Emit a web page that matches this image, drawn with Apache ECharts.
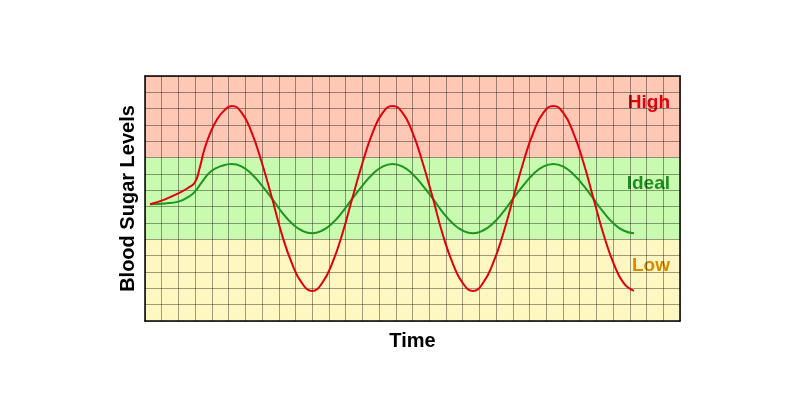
<!DOCTYPE html>
<html lang="en">
  <head>
    <meta charset="UTF-8" />
    <title>Blood Sugar Levels</title>
    <script src="https://cdn.jsdelivr.net/npm/echarts@6/dist/echarts.min.js"></script>
    <style>
      html, body { margin: 0; padding: 0; background: #fff; }
      #main { width: 800px; height: 398px; }
    </style>
  </head>
  <body>
    <div id="main"></div>
    <script>
      // grid units: 32 columns (time) x 15 rows (level)
      const xTicks = { min: 0, max: 32, step: 1 };
      const yTicks = { min: 0, max: 15, step: 1 };

      // zones: [from, to, label, fill, text colour]
      const zones = [
        [10, 15, "High", "#fec8b4", "#e2000c"],
        [5, 10, "Ideal", "#c8fbb0", "#1e8c1e"],
        [0, 5, "Low", "#fff7c1", "#d98a00"],
      ];

      // points, [time, level]
      const redCurve = [
        [0.3, 7.15], [1.2, 7.45], [1.99, 7.82], [2.59, 8.16], [2.99, 8.49],
        [3.29, 9.45], [3.55, 10.5], [3.9, 11.5], [4.29, 12.31], [4.7, 12.85], [5.19, 13.17],
        [5.79, 12.74], [6.39, 11.52], [6.98, 9.72], [7.6, 7.51], [8.18, 5.33],
        [8.78, 3.55], [9.38, 2.33], [10.0, 1.84],
        [10.6, 2.33], [11.2, 3.55], [11.8, 5.33], [12.4, 7.51], [13.02, 9.72],
        [13.61, 11.52], [14.21, 12.74], [14.81, 13.17],
        [15.41, 12.74], [16.01, 11.52], [16.6, 9.72], [17.22, 7.51], [17.8, 5.33],
        [18.4, 3.55], [19.0, 2.33], [19.62, 1.84],
        [20.22, 2.33], [20.82, 3.55], [21.42, 5.33], [22.02, 7.51], [22.63, 9.72],
        [23.22, 11.52], [23.82, 12.74], [24.42, 13.17],
        [25.02, 12.74], [25.62, 11.52], [26.22, 9.72], [26.82, 7.51], [27.42, 5.33],
        [28.02, 3.55], [28.62, 2.33], [29.25, 1.84],
      ];
      const greenCurve = [
        [0.3, 7.15], [1.2, 7.2], [1.99, 7.31], [2.6, 7.6], [2.99, 7.92],
        [3.49, 8.63], [3.99, 9.2], [4.6, 9.5], [5.19, 9.61],
        [5.79, 9.45], [6.39, 8.99], [6.98, 8.31], [7.6, 7.49], [8.18, 6.67],
        [8.78, 5.98], [9.38, 5.54], [10.0, 5.37],
        [10.6, 5.54], [11.2, 5.98], [11.8, 6.67], [12.4, 7.49], [13.02, 8.31],
        [13.61, 8.99], [14.21, 9.45], [14.81, 9.61],
        [15.41, 9.45], [16.01, 8.99], [16.6, 8.31], [17.22, 7.49], [17.8, 6.67],
        [18.4, 5.98], [19.0, 5.54], [19.62, 5.37],
        [20.22, 5.54], [20.82, 5.98], [21.42, 6.67], [22.02, 7.49], [22.63, 8.31],
        [23.22, 8.99], [23.82, 9.45], [24.42, 9.61],
        [25.02, 9.45], [25.62, 8.99], [26.22, 8.31], [26.82, 7.49], [27.42, 6.67],
        [28.02, 5.98], [28.62, 5.54], [29.25, 5.37],
      ];

      const font = "'Liberation Sans', Arial, sans-serif";
      const chart = echarts.init(document.getElementById("main"), null, { renderer: "canvas" });

      const gridLine = { show: true, lineStyle: { color: "rgba(0,0,0,0.38)", width: 1 } };
      const frame = { show: true, onZero: false, lineStyle: { color: "#000", width: 1.5 } };

      const option = {
        animation: false,
        backgroundColor: "#fff",
        grid: { left: 145, right: 120, top: 76, bottom: 77 },
        xAxis: [
          {
            type: "value",
            min: xTicks.min,
            max: xTicks.max,
            interval: xTicks.step,
            name: "Time",
            nameLocation: "middle",
            nameGap: 10,
            nameTextStyle: { fontFamily: font, fontWeight: "bold", fontSize: 20, color: "#000" },
            axisLine: frame,
            axisTick: { show: false },
            axisLabel: { show: false },
            splitLine: gridLine,
            z: 5,
          },
          {
            type: "value",
            position: "top",
            min: xTicks.min,
            max: xTicks.max,
            axisLine: frame,
            axisTick: { show: false },
            axisLabel: { show: false },
            splitLine: { show: false },
            z: 5,
          },
        ],
        yAxis: [
          {
            type: "value",
            min: yTicks.min,
            max: yTicks.max,
            interval: yTicks.step,
            name: "Blood Sugar Levels",
            nameLocation: "middle",
            nameGap: 7,
            nameTextStyle: { fontFamily: font, fontWeight: "bold", fontSize: 20, color: "#000" },
            axisLine: frame,
            axisTick: { show: false },
            axisLabel: { show: false },
            splitLine: gridLine,
            z: 5,
          },
          {
            type: "value",
            position: "right",
            min: yTicks.min,
            max: yTicks.max,
            axisLine: frame,
            axisTick: { show: false },
            axisLabel: { show: false },
            splitLine: { show: false },
            z: 5,
          },
        ],
        series: [
          {
            name: "zones",
            type: "line",
            data: [],
            silent: true,
            z: 1,
            markArea: {
              silent: true,
              z: 1,
              data: zones.map((z) => [
                {
                  yAxis: z[0],
                  itemStyle: { color: z[3] },
                  label: {
                    show: true,
                    formatter: z[2],
                    position: "insideTopRight",
                    distance: 10,
                    offset: [0, 7],
                    color: z[4],
                    fontFamily: font,
                    fontWeight: "bold",
                    fontSize: 19,
                  },
                },
                { yAxis: z[1] },
              ]),
            },
          },
          {
            name: "Ideal",
            type: "line",
            smooth: 0.5,
            symbol: "none",
            data: greenCurve,
            lineStyle: { color: "#1f941f", width: 2 },
            z: 6,
          },
          {
            name: "Actual",
            type: "line",
            smooth: 0.5,
            symbol: "none",
            data: redCurve,
            lineStyle: { color: "#e2000c", width: 2 },
            z: 7,
          },
        ],
      };

      chart.setOption(option);
    </script>
  </body>
</html>
